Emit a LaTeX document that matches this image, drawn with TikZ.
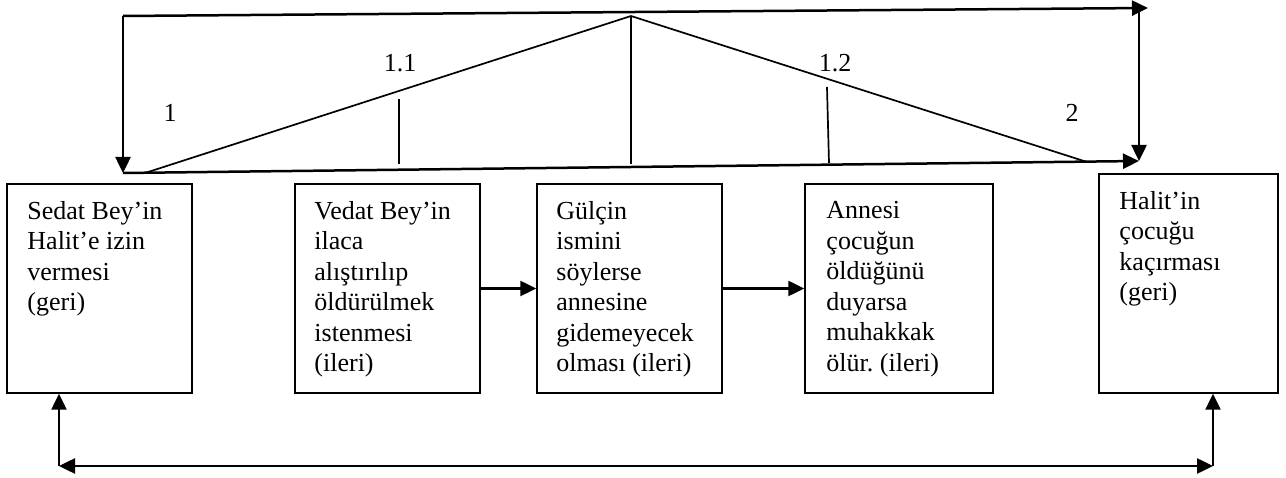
\documentclass[tikz,border=0pt]{standalone}
\usepackage{fontspec}
\setmainfont{Liberation Serif}
\usetikzlibrary{arrows.meta}
\frenchspacing
\tikzset{
  box/.style={draw, line width=1.5pt, minimum width=185pt, minimum height=209pt, inner sep=0pt},
  boxtext/.style={anchor=north west, align=left, inner sep=0pt, font=\fontsize{26}{30.5}\selectfont},
  lbl/.style={font=\fontsize{26}{30}\selectfont, inner sep=0pt},
  arr/.style={line width=2.5pt, -{Triangle[length=16pt,width=15pt]}},
  dblarr/.style={line width=2.5pt, {Triangle[length=16pt,width=15pt]}-{Triangle[length=16pt,width=15pt]}},
  branch/.style={line width=1.7pt}
}
\begin{document}
\begin{tikzpicture}[x=1pt,y=-1pt]
    \useasboundingbox (0,0) rectangle (1286,478);
    % boxes
    \node[box] (b1) at (99.5,288.5) {};
    \node[box] (b2) at (387.5,288.5) {};
    \node[box] (b3) at (629.5,288.5) {};
    \node[box, minimum width=188pt] (b4) at (899,288.5) {};
    \node[box, minimum width=179pt, minimum height=219pt] (b5) at (1188.5,283.5) {};
    \node[boxtext] (t1) at ([shift={(21,18)}]b1.north west) {Sedat Bey’in\\Halit’e izin\\vermesi\\(geri)};
    \node[boxtext] (t2) at ([shift={(20,18)}]b2.north west) {Vedat Bey’in\\ilaca\\alıştırılıp\\öldürülmek\\istenmesi\\(ileri)};
    \node[boxtext] (t3) at ([shift={(20,18)}]b3.north west) {Gülçin\\ismini\\söylerse\\annesine\\gidemeyecek\\olması (ileri)};
    \node[boxtext] (t4) at ([shift={(22,18)}]b4.north west) {Annesi\\çocuğun\\öldüğünü\\duyarsa\\muhakkak\\ölür. (ileri)};
    \node[boxtext] (t5) at ([shift={(21,18)}]b5.north west) {Halit’in\\çocuğu\\kaçırması\\(geri)};
    \draw[arr] (b2.east) -- (b3.west);
    \draw[arr] (b3.east) -- (b4.west);
    % lower link
    \coordinate (lb) at (59,466);
    \coordinate (rb) at (1213,466);
    \draw[dblarr] (lb) -- (rb);
    \draw[arr] (lb) -- (lb |- b1.south);
    \draw[arr] (rb) -- (rb |- b5.south);
    % upper frame
    \coordinate (tl) at (123,16);
    \coordinate (tr) at (1148,8);
    \coordinate (trv) at (1139,9);
    \coordinate (br) at (1139,161);
    \coordinate (bl) at (123,173);
    \draw[arr] (tl) -- (tr);
    \draw[arr] (tl) -- (bl);
    \draw[arr] (trv) -- (br);
    \draw[arr] (bl) -- (br);
    % triangle
    \coordinate (ta) at (145,173);
    \coordinate (apex) at (631,16);
    \coordinate (tb) at (1087,162);
    \coordinate (abot) at (631,164);
    \draw[branch] (ta) -- (apex) -- (tb);
    \draw[branch] (apex) -- (abot);
    \coordinate (m1top) at (399,99);
    \coordinate (m1bot) at (399,164);
    \coordinate (m2top) at (827,87);
    \coordinate (m2bot) at (829,163);
    \draw[branch] (m1top) -- (m1bot);
    \draw[branch] (m2top) -- (m2bot);
    \node[lbl] (n1) at (170,113) {1};
    \node[lbl] (n11) at (400,63) {1.1};
    \node[lbl] (n12) at (835,63) {1.2};
    \node[lbl] (n2) at (1072,113) {2};
\end{tikzpicture}
\end{document}
